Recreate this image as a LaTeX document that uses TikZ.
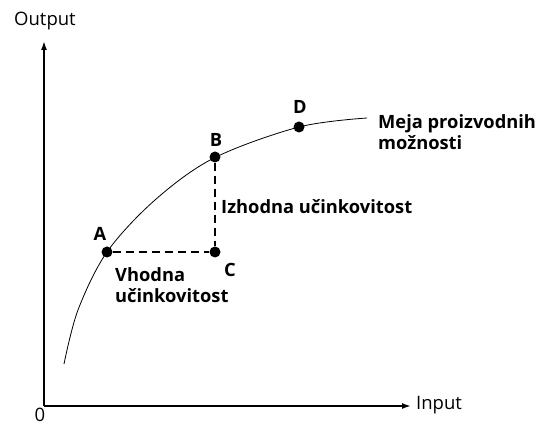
\documentclass[tikz,border=0pt]{standalone}
\usepackage{fontspec}
\setmainfont{Open Sans}
\usetikzlibrary{arrows.meta}
\begin{document}
\begin{tikzpicture}[x=1pt,y=-1pt,
  axis/.style={line width=1.6pt,-{Latex[length=9pt,width=6pt]}},
  dot/.style={circle,fill=black,inner sep=0pt,minimum size=11pt},
  dashline/.style={line width=1.8pt,dash pattern=on 8pt off 5pt},
  lbl/.style={font=\fontsize{18.3}{21}\selectfont\bfseries,inner sep=0pt},
  axlbl/.style={font=\fontsize{18.5}{21}\selectfont,inner sep=0pt}]
\useasboundingbox (0,0) rectangle (541,427);
\coordinate (O) at (44,406);
\coordinate (ytop) at (44,41);
\coordinate (xend) at (411,406);
\draw[axis] (O) -- (ytop);
\draw[axis] (O) -- (xend);
\node[axlbl,anchor=west] (out) at (14,21) {Output};
\node[axlbl,anchor=base] (zero) at (40,422) {0};
\node[axlbl,anchor=west] (in) at (416,405) {Input};
\draw[line width=0.8pt] plot[smooth,tension=0.55] coordinates
  {(64,364) (78,310) (107,252) (155,200) (214,158) (299,127) (367,118)};
\node[dot] (A) at (107,252) {};
\node[dot] (B) at (215,157) {};
\node[dot] (C) at (215,252) {};
\node[dot] (D) at (299,127) {};
\draw[dashline] (A) -- (C);
\draw[dashline] (B) -- (C);
\node[lbl] (la) at (100,234) {A};
\node[lbl] (lb) at (216,140) {B};
\node[lbl] (lc) at (230,270) {C};
\node[lbl] (ld) at (300,107) {D};
\node[lbl,anchor=west,align=left] (meja) at (378,132) {Meja proizvodnih\\možnosti};
\node[lbl,anchor=west] (izh) at (221,207) {Izhodna učinkovitost};
\node[lbl,anchor=west,align=left] (vh) at (115,285) {Vhodna\\učinkovitost};
\end{tikzpicture}
\end{document}
